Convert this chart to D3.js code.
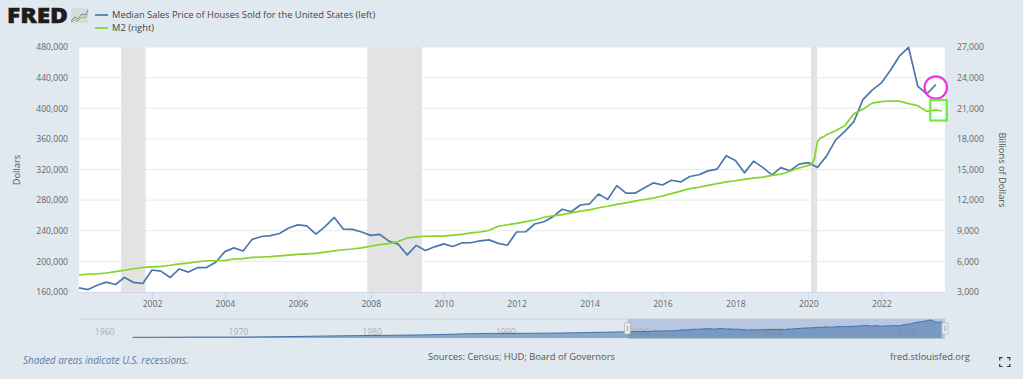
<!doctype html>
<html lang="en">
<head>
    <title>Median Sales Price vs M2</title>
    <script src="https://d3js.org/d3.v7.min.js"></script>
    <style>
        html, body { margin: 0; padding: 0; background: #e1e9f0; overflow: hidden; }
        svg { display: block; }
        text { font-family: "Open Sans", sans-serif; }
        .domain { display: none; }
    </style>
</head>
<body>
    <script>
        // Data
        var priceDates = ["2000-01","2000-04","2000-07","2000-10","2001-01","2001-04","2001-07","2001-10","2002-01","2002-04","2002-07","2002-10",
            "2003-01","2003-04","2003-07","2003-10","2004-01","2004-04","2004-07","2004-10","2005-01","2005-04","2005-07","2005-10",
            "2006-01","2006-04","2006-07","2006-10","2007-01","2007-04","2007-07","2007-10","2008-01","2008-04","2008-07","2008-10",
            "2009-01","2009-04","2009-07","2009-10","2010-01","2010-04","2010-07","2010-10","2011-01","2011-04","2011-07","2011-10",
            "2012-01","2012-04","2012-07","2012-10","2013-01","2013-04","2013-07","2013-10","2014-01","2014-04","2014-07","2014-10",
            "2015-01","2015-04","2015-07","2015-10","2016-01","2016-04","2016-07","2016-10","2017-01","2017-04","2017-07","2017-10",
            "2018-01","2018-04","2018-07","2018-10","2019-01","2019-04","2019-07","2019-10","2020-01","2020-04","2020-07","2020-10",
            "2021-01","2021-04","2021-07","2021-10","2022-01","2022-04","2022-07","2022-10","2023-01","2023-04","2023-07"];
        var priceValues = [165300,163200,168800,172900,169800,179000,172500,171100,188700,187200,178900,190100,
            186000,191800,191900,198800,212700,217600,213500,228800,232500,233700,236400,243600,
            247700,246300,235600,245400,257400,242200,241800,238400,233900,235300,226500,222500,
            208400,220900,214300,219000,222900,219500,224100,224300,226900,228100,223500,221100,
            238400,238700,248800,251700,258400,268100,264800,273600,275200,288000,281000,298900,
            289200,289100,295800,302500,299800,306000,303800,310900,313100,318200,320500,337900,
            331800,315600,330900,322800,313000,322500,318400,327100,329000,322600,337500,358700,
            369800,382600,411200,423600,433100,449300,468000,479500,429000,418500,431000];

        var m2Dates = ["2000-01","2000-04","2000-07","2000-10","2001-01","2001-04","2001-07","2001-10","2002-01","2002-04","2002-07","2002-10",
            "2003-01","2003-04","2003-07","2003-10","2004-01","2004-04","2004-07","2004-10","2005-01","2005-04","2005-07","2005-10",
            "2006-01","2006-04","2006-07","2006-10","2007-01","2007-04","2007-07","2007-10","2008-01","2008-04","2008-07","2008-10",
            "2009-01","2009-04","2009-07","2009-10","2010-01","2010-04","2010-07","2010-10","2011-01","2011-04","2011-07","2011-10",
            "2012-01","2012-04","2012-07","2012-10","2013-01","2013-04","2013-07","2013-10","2014-01","2014-04","2014-07","2014-10",
            "2015-01","2015-04","2015-07","2015-10","2016-01","2016-04","2016-07","2016-10","2017-01","2017-04","2017-07","2017-10",
            "2018-01","2018-04","2018-07","2018-10","2019-01","2019-04","2019-07","2019-10","2020-01","2020-02","2020-03","2020-04","2020-05","2020-06","2020-07","2020-10",
            "2021-01","2021-04","2021-07","2021-10","2022-01","2022-04","2022-07","2022-10","2023-01","2023-04","2023-07","2023-09"];
        var m2Values = [4667,4750,4780,4860,4990,5130,5280,5400,5470,5510,5620,5760,
            5830,5960,6060,6060,6090,6230,6270,6390,6430,6470,6540,6620,
            6680,6740,6790,6900,7020,7140,7210,7320,7480,7640,7740,7950,
            8290,8400,8460,8470,8480,8570,8650,8790,8880,9040,9440,9590,
            9730,9900,10050,10320,10450,10580,10750,10930,11040,11250,11400,11590,
            11730,11900,12060,12200,12400,12640,12880,13130,13260,13450,13620,13780,
            13900,14040,14150,14260,14420,14540,14830,15150,15400,15500,16000,17700,18100,18200,18400,18800,
            19300,20450,20900,21500,21650,21710,21700,21450,21250,20700,20830,20730];

        // Longer history shown only in the navigator strip
        var historyYears = [1963,1965,1968,1970,1972,1975,1978,1980,1983,1985,1988,1990,1993,1995,1997,1999];
        var historyValues = [18000,20000,24700,23400,27600,39000,55700,64000,75000,84000,113000,123000,126000,133000,146000,160000];

        var recessionStarts = ["2001-03","2007-12","2020-02"];
        var recessionEnds   = ["2001-11","2009-06","2020-04"];

        var leftTicks  = [160000,200000,240000,280000,320000,360000,400000,440000,480000];
        var rightTicks = [3000,6000,9000,12000,15000,18000,21000,24000,27000];
        var yearTicks  = [2002,2004,2006,2008,2010,2012,2014,2016,2018,2020,2022];
        var navTicks   = [1960,1970,1980,1990,2000,2010,2020];

        const width = 1023, height = 379;
        const plotL = 79, plotR = 945, plotT = 47, plotB = 292;
        const navT = 319, navB = 338;

        const parse = d3.timeParse("%Y-%m");
        const price = priceDates.map(function(d, i) { return { date: parse(d), value: priceValues[i] }; });
        const m2 = m2Dates.map(function(d, i) { return { date: parse(d), value: m2Values[i] }; });

        const svg = d3.select("body").append("svg")
            .attr("width", width)
            .attr("height", height);

        const x = d3.scaleTime().domain([parse("2000-01"), parse("2023-10")]).range([plotL, plotR]);
        const yLeft = d3.scaleLinear().domain([160000, 480000]).range([plotB, plotT]);
        const yRight = d3.scaleLinear().domain([3000, 27000]).range([plotB, plotT]);

        // Plot background
        svg.append("rect").attr("x", plotL).attr("y", plotT)
            .attr("width", plotR - plotL).attr("height", plotB - plotT).attr("fill", "#fff");

        // Grid
        svg.append("g").selectAll("line").data(leftTicks.slice(1)).enter().append("line")
            .attr("x1", plotL).attr("x2", plotR)
            .attr("y1", function(d) { return yLeft(d); })
            .attr("y2", function(d) { return yLeft(d); })
            .attr("stroke", "#e9e9e9").attr("stroke-width", 1);

        // Recessions
        svg.append("g").selectAll("rect").data(recessionStarts).enter().append("rect")
            .attr("x", function(d) { return x(parse(d)) - 0.4; })
            .attr("y", plotT)
            .attr("width", function(d, i) { return x(parse(recessionEnds[i])) - x(parse(d)); })
            .attr("height", plotB - plotT)
            .attr("fill", "#e3e3e3");

        // Bottom axis
        const xAxis = d3.axisBottom(x)
            .tickValues(yearTicks.map(function(y) { return new Date(y, 0, 1); }))
            .tickFormat(d3.timeFormat("%Y"))
            .tickSize(7).tickPadding(2);
        const xg = svg.append("g").attr("transform", "translate(0," + plotB + ")").call(xAxis);
        xg.selectAll("line").attr("stroke", "#ccd6e6");
        xg.selectAll("text").attr("fill", "#666").style("font-size", "8.6px");
        svg.append("line").attr("x1", plotL).attr("x2", plotR).attr("y1", plotB + 0.5).attr("y2", plotB + 0.5)
            .attr("stroke", "#ccd6e6");

        // Value axes
        const leftAxis = d3.axisLeft(yLeft).tickValues(leftTicks).tickFormat(d3.format(",")).tickSize(0).tickPadding(11);
        const lg = svg.append("g").attr("transform", "translate(" + plotL + ",0)").call(leftAxis);
        lg.selectAll("text").attr("fill", "#666").style("font-size", "8.6px");

        const rightAxis = d3.axisRight(yRight).tickValues(rightTicks).tickFormat(d3.format(",")).tickSize(0).tickPadding(12);
        const rg = svg.append("g").attr("transform", "translate(" + plotR + ",0)").call(rightAxis);
        rg.selectAll("text").attr("fill", "#666").style("font-size", "8.6px");

        svg.append("text").text("Dollars")
            .attr("transform", "translate(18,170) rotate(-90)")
            .attr("text-anchor", "middle").attr("dominant-baseline", "middle")
            .attr("fill", "#555").style("font-size", "9.3px");
        svg.append("text").text("Billions of Dollars")
            .attr("transform", "translate(1001,170) rotate(90)")
            .attr("text-anchor", "middle").attr("dominant-baseline", "middle")
            .attr("fill", "#555").style("font-size", "9.3px");

        // Series
        const priceLine = d3.line()
            .x(function(d) { return x(d.date); })
            .y(function(d) { return yLeft(d.value); });
        const m2Line = d3.line()
            .x(function(d) { return x(d.date); })
            .y(function(d) { return yRight(d.value); });

        svg.append("path").datum(price).attr("d", priceLine)
            .attr("fill", "none").attr("stroke", "#4a78ad").attr("stroke-width", 1.7).attr("stroke-linejoin", "round");
        svg.append("path").datum(m2).attr("d", m2Line)
            .attr("fill", "none").attr("stroke", "#85d42a").attr("stroke-width", 1.7).attr("stroke-linejoin", "round");

        // Hand drawn marks on top of the last points
        const lastPrice = price[price.length - 1];
        const lastM2 = m2[m2.length - 1];
        svg.append("circle")
            .attr("cx", x(lastPrice.date)).attr("cy", yLeft(lastPrice.value) + 3)
            .attr("r", 11.2)
            .attr("fill", "none").attr("stroke", "#ee33e6").attr("stroke-width", 2.2);
        svg.append("rect")
            .attr("x", x(lastPrice.date) - 5.5).attr("y", yRight(lastM2.value) - 11)
            .attr("width", 16.5).attr("height", 20.5)
            .attr("fill", "none").attr("stroke", "#66f23c").attr("stroke-width", 2.2);

        // Legend
        const legendNames = ["Median Sales Price of Houses Sold for the United States (left)", "M2 (right)"];
        const legendColors = ["#4a78ad", "#85d42a"];
        const legend = svg.append("g").selectAll("g").data(legendNames).enter().append("g")
            .attr("transform", function(d, i) { return "translate(95," + (15 + i * 13) + ")"; });
        legend.append("line").attr("x1", 0).attr("x2", 13)
            .attr("stroke", function(d, i) { return legendColors[i]; }).attr("stroke-width", 1.7);
        legend.append("text").text(function(d) { return d; })
            .attr("x", 17).attr("dominant-baseline", "middle")
            .attr("fill", "#444").style("font-size", "9.35px");

        // FRED logo
        svg.append("text").text("FRED")
            .attr("x", 7).attr("y", 23)
            .attr("textLength", 61).attr("lengthAdjust", "spacingAndGlyphs")
            .attr("fill", "#1d1d1b").attr("stroke", "#1d1d1b").attr("stroke-width", 0.5)
            .style("font-size", "21px").style("font-weight", 800);
        svg.append("rect").attr("x", 71).attr("y", 8).attr("width", 17).attr("height", 15).attr("fill", "#d9dcdc");
        svg.append("path").attr("d", "M71 21L75 17L78 19L82 14L85 15L88 10")
            .attr("fill", "none").attr("stroke", "#4572a7").attr("stroke-width", 0.8);
        svg.append("path").attr("d", "M71 22L75 20L78 21L82 17L85 18L88 13")
            .attr("fill", "none").attr("stroke", "#85a84a").attr("stroke-width", 0.8);

        // Navigator
        const navX = d3.scaleLinear().domain([1960, 2023.75]).range([92.7, plotR]);
        const navY = d3.scaleLinear().domain([0, 480000]).range([navB, navT + 1]);
        const yearOf = function(date) { return date.getFullYear() + date.getMonth() / 12; };
        const navData = historyYears.map(function(y, i) { return { year: y, value: historyValues[i] }; })
            .concat(price.map(function(d) { return { year: yearOf(d.date), value: d.value }; }));

        svg.append("line").attr("x1", plotL).attr("x2", plotR).attr("y1", navT).attr("y2", navT)
            .attr("stroke", "#d3d9df").attr("stroke-width", 1.5);
        svg.append("rect").attr("x", navX(2000)).attr("y", navT)
            .attr("width", plotR - navX(2000)).attr("height", navB - navT)
            .attr("fill", "#b7c7e2");

        const navAxis = d3.axisBottom(navX).tickValues(navTicks).tickFormat(d3.format("d")).tickSize(0);
        const ng = svg.append("g").attr("transform", "translate(0,332)").call(navAxis);
        ng.selectAll("text").attr("fill", "#a9aeb3").attr("x", 11.5).attr("y", 0)
            .attr("dy", "0.35em").style("font-size", "8.6px");

        const navArea = d3.area()
            .x(function(d) { return navX(d.year); })
            .y0(navB)
            .y1(function(d) { return navY(d.value); });
        const navLine = d3.line()
            .x(function(d) { return navX(d.year); })
            .y(function(d) { return navY(d.value); });
        svg.append("path").datum(navData).attr("d", navArea).attr("fill", "#4572a7").attr("fill-opacity", 0.55);
        svg.append("path").datum(navData).attr("d", navLine).attr("fill", "none").attr("stroke", "#4572a7").attr("stroke-width", 1);

        svg.append("line").attr("x1", navX(2000)).attr("x2", plotR).attr("y1", navB + 0.5).attr("y2", navB + 0.5)
            .attr("stroke", "#bcc5d2").attr("stroke-width", 1);

        // Navigator handles
        [navX(2000), plotR].forEach(function(hx) {
            svg.append("rect").attr("x", hx - 3).attr("y", 323).attr("width", 6).attr("height", 11).attr("rx", 1)
                .attr("fill", "#f2f2f2").attr("stroke", "#aaa").attr("stroke-width", 0.7);
            svg.append("rect").attr("x", hx - 1.2).attr("y", 325.5).attr("width", 2.4).attr("height", 6)
                .attr("fill", "#c4c4c4");
        });

        // Footer
        svg.append("text").text("Shaded areas indicate U.S. recessions.")
            .attr("x", 23).attr("y", 364)
            .attr("fill", "#5b7aa8").style("font-size", "9.9px").style("font-style", "italic");
        svg.append("text").text("Sources: Census; HUD; Board of Governors")
            .attr("x", 521.5).attr("y", 360).attr("text-anchor", "middle")
            .attr("fill", "#555").style("font-size", "9.35px");
        svg.append("text").text("fred.stlouisfed.org")
            .attr("x", 930).attr("y", 360).attr("text-anchor", "middle")
            .attr("fill", "#555").style("font-size", "9.35px");

        // Fullscreen icon
        svg.append("path")
            .attr("d", "M999.7 360.5V357.7H1002.5M1007 357.7H1009.8V360.5M1009.8 364V366.5H1007M1002.5 366.5H999.7V364")
            .attr("fill", "none").attr("stroke", "#333").attr("stroke-width", 1.2);
    </script>
</body>
</html>
